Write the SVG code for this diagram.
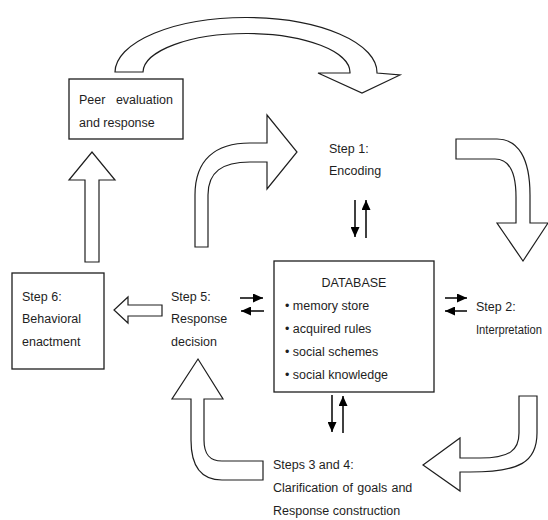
<svg xmlns="http://www.w3.org/2000/svg" width="548" height="520" viewBox="0 0 548 520">
<style>
  text { font-family: "Liberation Sans", Arial, sans-serif; font-size: 12.5px; fill: #1e1e1e; }
  .box { fill: #fff; stroke: #1e1e1e; stroke-width: 1.3; }
  .blk { fill: #fff; stroke: #1e1e1e; stroke-width: 1.2; stroke-linejoin: miter; }
  .ln { fill: none; stroke: #000; stroke-width: 1.5; }
</style>
<defs>
  <marker id="ah" markerUnits="userSpaceOnUse" markerWidth="10" markerHeight="9" refX="10" refY="4.5" orient="auto">
    <path d="M0,0 L10,4.5 L0,9 Z" fill="#000"/>
  </marker>
</defs>
<rect width="548" height="520" fill="#fff"/>

<g id="connectors">
  <path class="blk" d="M115,72 A131,55 0 0 1 377,73 L400,75 L362,93 L318,73 L350,73 A103.5,39 0 0 0 143,72 Z"/>
  <path class="blk" d="M456,139 L497,139 C518,139 530,158 530,195 L530,223 L548,223 L523,261 L497,223 L516,223 L516,197 C516,170 508,159 495,159 L456,159 Z"/>
  <path class="blk" d="M519,396 L537,396 L537,433 C537,462 520,472 470,472 L460,472 L460,491 L423,465 L460,438 L460,458 L480,458 C510,458 519,450 519,433 Z"/>
  <path class="blk" d="M263,461 L263,480 L222,480 C200,480 191,465 191,440 L191,399 L172,399 L198,359 L223,399 L204,399 L204,440 C204,455 210,461 222,461 Z"/>
  <path class="blk" d="M195,247 L195,195 C195,160 215,143 250,143 L267,143 L267,115 L297,152 L267,189 L267,162 L250,162 C222,162 208,172 208,195 L208,247 Z"/>
  <path class="blk" d="M85,262 L85,180 L69,180 L92,152 L115,180 L99,180 L99,262 Z"/>
  <path class="blk" d="M162,305 L128,305 L128,297 L114,310 L128,323 L128,316 L162,316 Z"/>

  <line class="ln" x1="355" y1="200" x2="355" y2="237" marker-end="url(#ah)"/>
  <line class="ln" x1="366" y1="238" x2="366" y2="200" marker-end="url(#ah)"/>
  <line class="ln" x1="332" y1="395" x2="332" y2="432" marker-end="url(#ah)"/>
  <line class="ln" x1="343" y1="433" x2="343" y2="396" marker-end="url(#ah)"/>
  <line class="ln" x1="240" y1="298" x2="263" y2="298" marker-end="url(#ah)"/>
  <line class="ln" x1="264" y1="311" x2="241" y2="311" marker-end="url(#ah)"/>
  <line class="ln" x1="445" y1="298" x2="467" y2="298" marker-end="url(#ah)"/>
  <line class="ln" x1="467" y1="311" x2="445" y2="311" marker-end="url(#ah)"/>
</g>

<g id="peer">
  <rect class="box" x="69" y="79" width="114" height="60"/>
  <text x="79" y="104" word-spacing="7">Peer evaluation</text>
  <text x="79" y="127">and response</text>
</g>

<g id="step1">
  <text x="329" y="153">Step 1:</text>
  <text x="329" y="175">Encoding</text>
</g>

<g id="step2">
  <text x="476" y="311">Step 2:</text>
  <text x="476" y="334" font-size="11.5" textLength="66" lengthAdjust="spacingAndGlyphs">Interpretation</text>
</g>

<g id="database">
  <rect class="box" x="274" y="261" width="160" height="131"/>
  <text x="354" y="287" text-anchor="middle">DATABASE</text>
  <text x="285" y="310">• memory store</text>
  <text x="285" y="333">• acquired rules</text>
  <text x="285" y="356">• social schemes</text>
  <text x="285" y="379">• social knowledge</text>
</g>

<g id="steps34">
  <text x="273" y="469">Steps 3 and 4:</text>
  <text x="273" y="492" word-spacing="0.8">Clarification of goals and</text>
  <text x="273" y="515">Response construction</text>
</g>

<g id="step5">
  <text x="171" y="301">Step 5:</text>
  <text x="171" y="323">Response</text>
  <text x="171" y="346">decision</text>
</g>

<g id="step6">
  <rect class="box" x="12" y="273" width="92" height="96"/>
  <text x="22" y="301">Step 6:</text>
  <text x="22" y="323">Behavioral</text>
  <text x="22" y="346">enactment</text>
</g>
</svg>
